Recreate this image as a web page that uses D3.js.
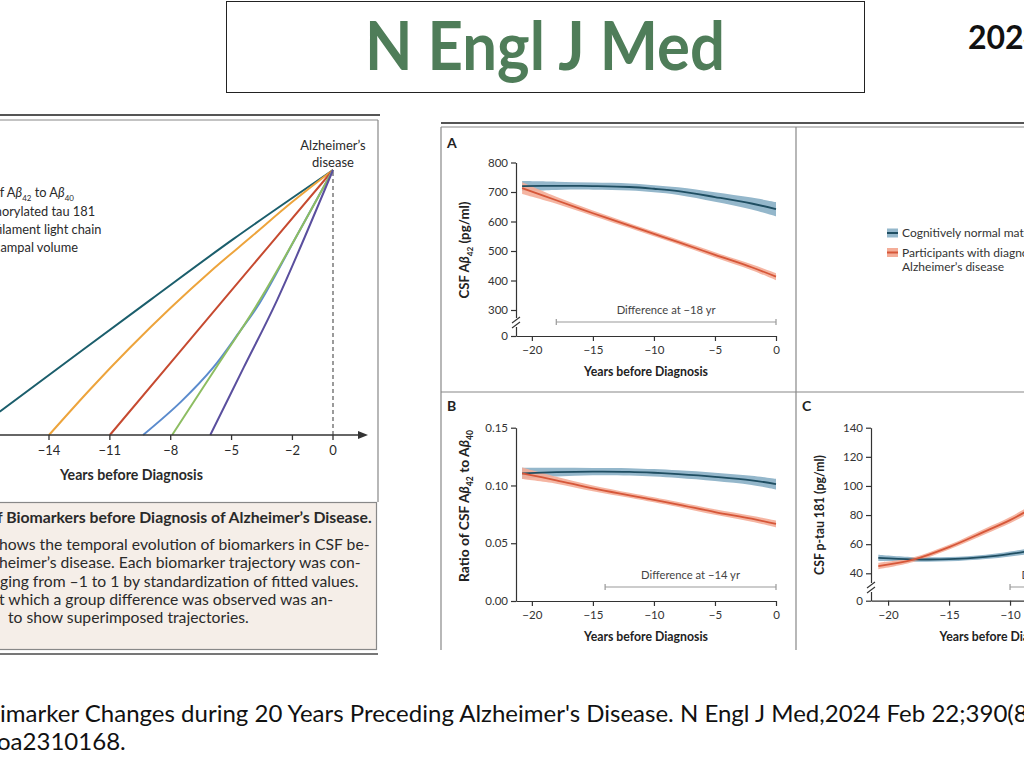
<!DOCTYPE html>
<html><head><meta charset="utf-8"><title>Biomarker trajectories</title>
<script src="https://cdn.jsdelivr.net/npm/d3@7/dist/d3.min.js"></script>
<style>html,body{margin:0;padding:0;background:#fff;overflow:hidden}svg{display:block}</style>
</head><body>
<svg id="chart" width="1024" height="768"></svg>
<script>
// ---------------- DATA ----------------
const headerTitle = "N Engl J Med";
const headerYear = "2024";
const citationLines = [
  "imarker Changes during 20 Years Preceding Alzheimer's Disease. N Engl J Med,2024 Feb 22;390(8",
  "oa2310168."
];

// Overview panel: standardized trajectories (year, standardized value -1..1)
const overviewTicks = [-14, -11, -8, -5, -2, 0];
const ovAbeta42 = [[-18,-1],[-16.4,-0.82],[-9,0.02],[-4.9,0.48],[0,1]];
const ovRatio   = [[-14,-1],[-12,-0.66],[-10,-0.34],[-8,-0.04],[-6,0.24],[-4,0.5],[-2,0.76],[0,1]];
const ovPtau    = [[-11,-1],[-5.4,0.02],[0,1]];
const ovBlue    = [[-9.36,-1],[-7.5,-0.75],[-5.9,-0.49],[-4.6,-0.22],[-3.6,0.0],[-1.8,0.5],[0,1]];
const ovGreen   = [[-7.93,-1],[-5.8,-0.5],[-3.6,0.02],[0,1]];
const ovPurple  = [[-6.05,-1],[-4.4,-0.49],[-2.75,0.02],[0,1]];
const overviewLegend = ["Ratio of Aβ_42 to Aβ_40","Phosphorylated tau 181","Neurofilament light chain","Hippocampal volume"];
const overviewEndLabel = ["Alzheimer\u2019s","disease"];
const overviewXTitle = "Years before Diagnosis";

const captionLines = [
  "f Biomarkers before Diagnosis of Alzheimer\u2019s Disease.",
  "hows the temporal evolution of biomarkers in CSF be-",
  "heimer\u2019s disease. Each biomarker trajectory was con-",
  "ging from \u20131 to 1 by standardization of fitted values.",
  "t which a group difference was observed was an-",
  "to show superimposed trajectories."
];

// Panels: years before diagnosis
const yrs = [-20.8,-18,-15,-12,-10,-8,-5,-2,0];
const xTicks = [-20,-15,-10,-5,0];
const abeta42Normal   = [720,721,720,717,711,703,683,661,642];
const abeta42NormalCI = [17,14,12,12,12,13,16,20,24];
const abeta42AD       = [713,672,628,586,558,530,487,445,413];
const abeta42ADCI     = [20,12,9,8,8,8,9,10,12];
const abeta42Ticks    = [0,300,400,500,600,700,800];

const ratioNormal   = [0.1105,0.1115,0.1120,0.1118,0.1110,0.1098,0.1075,0.1045,0.1012];
const ratioNormalCI = [0.0048,0.0038,0.0032,0.0032,0.0032,0.0033,0.0036,0.0040,0.0046];
const ratioAD       = [0.1105,0.1045,0.0975,0.0915,0.0876,0.0835,0.0770,0.0712,0.0667];
const ratioADCI     = [0.0050,0.0030,0.0025,0.0022,0.0022,0.0022,0.0024,0.0026,0.0030];
const ratioTicks    = [0,0.05,0.10,0.15];

const ptauNormal   = [50.6,49.6,49.7,51.3,53.3,55.8,60,65,69];
const ptauNormalCI = [2.2,1.6,1.5,1.5,1.7,2,2.5,3,3.5];
const ptauAD       = [45,49.2,58,69,76.5,86,104,124,138];
const ptauADCI     = [2.2,1.6,1.6,2,2.2,2.5,3,4,5];
const ptauTicks    = [0,40,60,80,100,120,140];

const differenceYears = {A:-18, B:-14, C:-10};
const legendLabels = [["Cognitively normal matched controls"],["Participants with diagnosed","Alzheimer\u2019s disease"]];

// ---------------- STYLE ----------------
const F = "Lato, 'Open Sans', 'Noto Sans', sans-serif";
const INK = "#2a2a2a";
const blueBand = "#94b7cb", blueLine = "#1f4e62", redBand = "#f4ad98", redLine = "#d65739";
const ovColors = ["#1b5e6c","#eda43c","#c64a30","#5b8bcd","#8dbd62","#5a4f9e"];
const smooth = d3.curveCatmullRom.alpha(0.5);

const svg = d3.select("#chart");

function fit(sel, w){
  const l = sel.node().getComputedTextLength();
  const fs = parseFloat(sel.attr("font-size"));
  sel.attr("font-size", fs * w / l);
  return sel;
}
function rich(sel, str){
  const parts = str.split(/(β|_\d+)/).filter(s => s.length);
  let prevSub = false;
  parts.forEach(p => {
    const t = sel.append("tspan");
    if (p.startsWith("_")) {
      t.text(p.slice(1)).attr("font-size","0.62em").attr("dy","0.45em");
      prevSub = true;
    } else {
      if (prevSub) t.attr("dy","-0.28em");
      prevSub = false;
      t.text(p);
      if (p === "β") t.attr("font-style","italic");
    }
  });
  return sel;
}

// ---------------- HEADER ----------------
svg.append("rect").attr("x",226.5).attr("y",1.5).attr("width",638).attr("height",91)
  .attr("fill","none").attr("stroke","#222").attr("stroke-width",1);
const title = svg.append("text").attr("x",0).attr("y",0).attr("font-family",F).attr("font-weight",700)
  .attr("font-size",60).attr("fill","#4f7d59").text(headerTitle)
  .attr("transform","translate(365,70) scale(1,1.1)");
fit(title, 360);
svg.append("text").attr("x",968).attr("y",49).attr("font-family",F).attr("font-weight",700)
  .attr("font-size",32).attr("fill","#111").text(headerYear);

// ---------------- LEFT OVERVIEW ----------------
const L = svg.append("g");
L.append("line").attr("x1",0).attr("x2",380).attr("y1",115).attr("y2",115).attr("stroke","#555").attr("stroke-width",2);
L.append("line").attr("x1",0).attr("x2",378).attr("y1",120).attr("y2",120).attr("stroke","#888").attr("stroke-width",1);
L.append("line").attr("x1",378).attr("x2",378).attr("y1",120).attr("y2",502).attr("stroke","#888").attr("stroke-width",1.2);
L.append("rect").attr("x",-5).attr("y",502.5).attr("width",381.5).attr("height",147)
  .attr("fill","#f5eee8").attr("stroke","#888").attr("stroke-width",1.2);
L.append("line").attr("x1",0).attr("x2",378).attr("y1",654).attr("y2",654).attr("stroke","#777").attr("stroke-width",2);

const ox = d3.scaleLinear().domain([-14,0]).range([49,333]);
const oy = d3.scaleLinear().domain([-1,1]).range([435,170]);
const ovSeries = [ovAbeta42, ovRatio, ovPtau, ovBlue, ovGreen, ovPurple];
const ovLine = d3.line().x(d => ox(d[0])).y(d => oy(d[1])).curve(smooth);
L.append("line").attr("x1",ox(0)).attr("x2",ox(0)).attr("y1",oy(1)+2).attr("y2",oy(-1))
  .attr("stroke","#666").attr("stroke-width",1.3).attr("stroke-dasharray","4,3");
ovSeries.forEach((s,i) => {
  L.append("path").attr("d",ovLine(s)).attr("fill","none").attr("stroke",ovColors[i]).attr("stroke-width",2);
});
L.append("line").attr("x1",0).attr("x2",358).attr("y1",oy(-1)).attr("y2",oy(-1)).attr("stroke","#333").attr("stroke-width",1.5);
L.append("path").attr("d",`M358,${oy(-1)-4}L368,${oy(-1)}L358,${oy(-1)+4}Z`).attr("fill","#333");
overviewTicks.forEach(t => {
  L.append("line").attr("x1",ox(t)).attr("x2",ox(t)).attr("y1",oy(-1)).attr("y2",oy(-1)+5).attr("stroke","#333").attr("stroke-width",1.3);
  L.append("text").attr("x",ox(t)).attr("y",455).attr("text-anchor","middle").attr("font-family",F)
    .attr("font-size",13).attr("fill",INK).text(t < 0 ? "\u2212" + Math.abs(t) : t);
});
fit(L.append("text").attr("x",60).attr("y",480).attr("font-family",F).attr("font-weight",700)
  .attr("font-size",14).attr("fill",INK).text(overviewXTitle), 143);
overviewEndLabel.forEach((t,i) => {
  L.append("text").attr("x",333).attr("y",150 + i*17).attr("text-anchor","middle").attr("font-family",F)
    .attr("font-size",13).attr("fill",INK).text(t);
});
overviewLegend.forEach((t,i) => {
  rich(L.append("text").attr("x",-40).attr("y",[197,216,234,252][i]).attr("font-family",F)
    .attr("font-size",12.8).attr("fill",INK), t);
});
const capPos = [[-3,372,523],[-1,370,550],[-1,370,568],[0,361,587],[-1,290,605],[8,240,623]];
fit(L.append("text").attr("x",capPos[0][0]).attr("y",capPos[0][2]).attr("font-family",F)
  .attr("font-weight",700).attr("font-size",14).attr("fill",INK).text(captionLines[0]), capPos[0][1]-capPos[0][0]);
const probe = fit(L.append("text").attr("x",capPos[1][0]).attr("y",capPos[1][2]).attr("font-family",F)
  .attr("font-size",14).attr("fill",INK).text(captionLines[1]), capPos[1][1]-capPos[1][0]);
const bodyFs = parseFloat(probe.attr("font-size"));
captionLines.slice(2).forEach((t,k) => {
  const p = capPos[k+2];
  L.append("text").attr("x",p[0]).attr("y",p[2]).attr("font-family",F)
    .attr("font-size",bodyFs).attr("fill",INK).text(t);
});

// ---------------- RIGHT PANELS FRAME ----------------
const R = svg.append("g");
R.append("line").attr("x1",441).attr("x2",1024).attr("y1",123).attr("y2",123).attr("stroke","#555").attr("stroke-width",2);
R.append("line").attr("x1",441).attr("x2",1024).attr("y1",127).attr("y2",127).attr("stroke","#888").attr("stroke-width",1);
R.append("line").attr("x1",441).attr("x2",441).attr("y1",127).attr("y2",650).attr("stroke","#888").attr("stroke-width",1.2);
R.append("line").attr("x1",796).attr("x2",796).attr("y1",127).attr("y2",650).attr("stroke","#888").attr("stroke-width",1.2);
R.append("line").attr("x1",441).attr("x2",1024).attr("y1",392).attr("y2",392).attr("stroke","#888").attr("stroke-width",1.2);

function panel(cfg){
  const g = svg.append("g");
  const x = d3.scaleLinear().domain(cfg.xd).range(cfg.xr);
  const y = d3.scaleLinear().domain(cfg.yd).range(cfg.yr);
  const area = d3.area().x((d,i) => x(yrs[i])).curve(smooth);
  const line = d3.line().x((d,i) => x(yrs[i])).y(d => y(d)).curve(smooth);
  const bandN = cfg.normal.map((m,i) => [m - cfg.normalCI[i], m + cfg.normalCI[i]]);
  const bandA = cfg.ad.map((m,i) => [m - cfg.adCI[i], m + cfg.adCI[i]]);
  g.append("path").attr("d", area.y0(d => y(d[0])).y1(d => y(d[1]))(bandN)).attr("fill",blueBand);
  g.append("path").attr("d", area.y0(d => y(d[0])).y1(d => y(d[1]))(bandA)).attr("fill",redBand).attr("opacity",0.9);
  g.append("path").attr("d", line(cfg.normal)).attr("fill","none").attr("stroke",blueLine).attr("stroke-width",1.8);
  g.append("path").attr("d", line(cfg.ad)).attr("fill","none").attr("stroke",redLine).attr("stroke-width",1.8);

  const ax = g.append("g").attr("transform",`translate(0,${cfg.yr[0]})`)
    .call(d3.axisBottom(x).tickValues(xTicks).tickSize(5).tickSizeOuter(0).tickPadding(5)
      .tickFormat(d => d < 0 ? "\u2212" + Math.abs(d) : d));
  const ay = g.append("g").attr("transform",`translate(${cfg.xr[0]},0)`)
    .call(d3.axisLeft(y).tickValues(cfg.yt).tickSize(5).tickSizeOuter(0).tickPadding(3).tickFormat(cfg.fmt));
  [ax, ay].forEach(a => {
    a.selectAll("path,line").attr("stroke","#333").attr("stroke-width",1.2);
    a.selectAll("text").attr("font-family",F).attr("font-size",11.5).attr("fill","#333");
  });
  if (cfg.brk) {
    const by = cfg.brk;
    g.append("rect").attr("x",cfg.xr[0]-2).attr("y",by-5).attr("width",4).attr("height",9).attr("fill","#fff");
    [-3,2].forEach(o => g.append("line").attr("x1",cfg.xr[0]-4).attr("x2",cfg.xr[0]+4)
      .attr("y1",by+o+3).attr("y2",by+o-3).attr("stroke","#333").attr("stroke-width",1.1));
  }
  const dy = cfg.diffY;
  g.append("line").attr("x1",x(cfg.diff)).attr("x2",x(0)).attr("y1",dy).attr("y2",dy).attr("stroke","#999").attr("stroke-width",1.2);
  [cfg.diff,0].forEach(v => g.append("line").attr("x1",x(v)).attr("x2",x(v)).attr("y1",dy-3).attr("y2",dy+3)
    .attr("stroke","#999").attr("stroke-width",1.2));
  fit(g.append("text").attr("x",(x(cfg.diff)+x(0))/2).attr("y",dy-8).attr("text-anchor","middle")
    .attr("font-family",F).attr("font-size",11.5).attr("fill","#444")
    .text("Difference at \u2212" + Math.abs(cfg.diff) + " yr"), 99);
  g.append("text").attr("x",cfg.letter[1]).attr("y",cfg.letter[2]).attr("font-family",F).attr("font-weight",700)
    .attr("font-size",14).attr("fill","#222").text(cfg.letter[0]);
  fit(g.append("text").attr("x",(cfg.xr[0]+cfg.xr[1])/2).attr("y",cfg.yr[0]+40).attr("text-anchor","middle")
    .attr("font-family",F).attr("font-weight",700).attr("font-size",12).attr("fill","#222")
    .text(overviewXTitle), 124);
  const yl = g.append("text").attr("transform",`translate(${cfg.ylab[0]},${cfg.ylab[1]}) rotate(-90)`)
    .attr("text-anchor","middle").attr("font-family",F).attr("font-weight",700).attr("font-size",12).attr("fill","#222");
  rich(yl, cfg.ylabel);
  fit(yl, cfg.ylab[2]);
}

panel({letter:["A",447,148], xd:[-21.3,0], xr:[516,776], yd:[0,300,800], yr:[336,310,162.5], yt:abeta42Ticks,
  fmt:d3.format("d"), brk:323, normal:abeta42Normal, normalCI:abeta42NormalCI, ad:abeta42AD, adCI:abeta42ADCI,
  diff:differenceYears.A, diffY:322, ylabel:"CSF Aβ_42 (pg/ml)", ylab:[469,250,97]});
panel({letter:["B",447,411], xd:[-21.3,0], xr:[516,776], yd:[0,0.15], yr:[601,427.7], yt:ratioTicks,
  fmt:d3.format(".2f"), brk:null, normal:ratioNormal, normalCI:ratioNormalCI, ad:ratioAD, adCI:ratioADCI,
  diff:differenceYears.B, diffY:587, ylabel:"Ratio of CSF Aβ_42 to Aβ_40", ylab:[469,506,152]});
panel({letter:["C",802,411], xd:[-21.4,0], xr:[871,1132], yd:[0,40,140], yr:[600.7,573.3,427.7], yt:ptauTicks,
  fmt:d3.format("d"), brk:588, normal:ptauNormal, normalCI:ptauNormalCI, ad:ptauAD, adCI:ptauADCI,
  diff:differenceYears.C, diffY:587, ylabel:"CSF p-tau 181 (pg/ml)", ylab:[824,515,120]});

const lg = svg.append("g");
[[blueBand,blueLine,233],[redBand,redLine,252.5]].forEach((c,i) => {
  lg.append("rect").attr("x",887).attr("y",c[2]-4.5).attr("width",11).attr("height",9).attr("fill",c[0]);
  lg.append("line").attr("x1",887).attr("x2",898).attr("y1",c[2]).attr("y2",c[2]).attr("stroke",c[1]).attr("stroke-width",2);
  legendLabels[i].forEach((t,j) => lg.append("text").attr("x",902).attr("y",c[2]+4+j*14).attr("font-family",F)
    .attr("font-size",12).attr("fill","#333").text(t));
});

// ---------------- CITATION ----------------
const c1 = fit(svg.append("text").attr("x",0).attr("y",722).attr("font-family",F).attr("font-size",22).attr("fill","#111")
  .text(citationLines[0]), 1028);
svg.append("text").attr("x",-3).attr("y",750).attr("font-family",F).attr("font-size",c1.attr("font-size")).attr("fill","#111")
  .text(citationLines[1]);
</script>
</body></html>
